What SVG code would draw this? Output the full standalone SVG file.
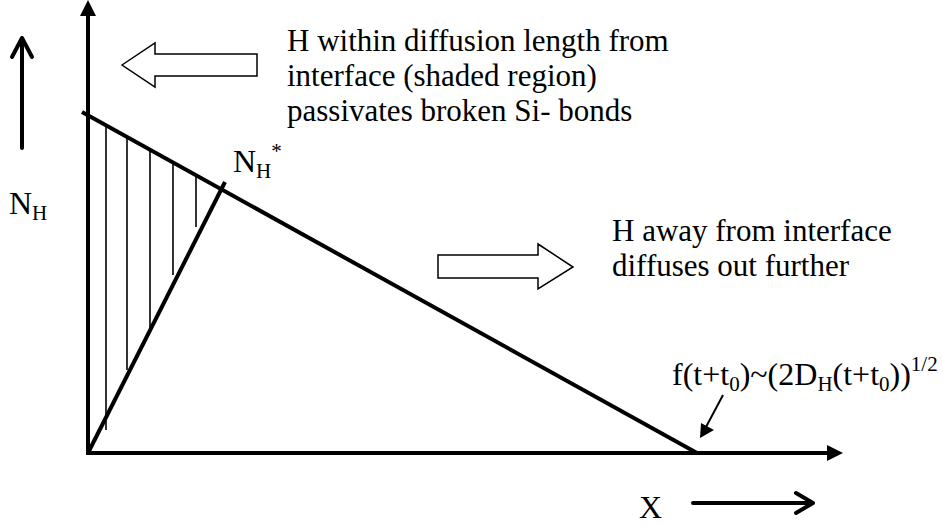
<svg xmlns="http://www.w3.org/2000/svg" width="943" height="526" viewBox="0 0 943 526">
<style>
text{font-family:"Liberation Serif","Times New Roman",serif;font-size:32px;fill:#000}
.ml{font-size:31px}
.thick{stroke:#000;stroke-width:4;fill:none}
.hatch{stroke:#000;stroke-width:1.6;fill:none}
.block{fill:#fff;stroke:#000;stroke-width:1.5}
.sub{font-size:21px}
</style>
<rect width="943" height="526" fill="#fff"/>
<g id="connectors">
<line class="thick" x1="88" y1="455" x2="88" y2="14"/>
<polygon points="88,0 80,16 96,16" fill="#000"/>
<line class="thick" x1="86" y1="453" x2="829" y2="453"/>
<polygon points="843,453 827,445 827,461" fill="#000"/>
<line class="thick" x1="82" y1="112" x2="697" y2="453"/>
<line class="thick" x1="88" y1="453" x2="225" y2="182"/>
<g id="hatching">
<line class="hatch" x1="106" y1="125" x2="106" y2="430"/>
<line class="hatch" x1="127" y1="137" x2="127" y2="370"/>
<line class="hatch" x1="150" y1="150" x2="150" y2="330"/>
<line class="hatch" x1="173" y1="162" x2="173" y2="275"/>
<line class="hatch" x1="196" y1="176" x2="196" y2="227"/>
</g>
<path class="thick" d="M22,148 V38 M12,57 L22,38 L32,57" stroke-linecap="round" stroke-linejoin="round"/>
<path class="thick" d="M693,503 H813 M796,493 L813,503 L796,513" stroke-linecap="round" stroke-linejoin="round"/>
<line x1="723" y1="395" x2="706" y2="427" stroke="#000" stroke-width="2"/>
<polygon points="700,438 701,423 714,430" fill="#000"/>
<polygon id="arrow-left" class="block" points="122,65 155,43 155,54 257,54 257,76 155,76 155,87"/>
<polygon id="arrow-right" class="block" points="438,255 538,255 538,244 573,267 538,289 538,278 438,278"/>
</g>
<g id="label-top">
<text class="ml" x="287" y="51">H within diffusion length from</text>
<text class="ml" x="287" y="86">interface (shaded region)</text>
<text class="ml" x="287" y="121">passivates broken Si- bonds</text>
</g>
<g id="label-NH">
<text x="9" y="214">N<tspan class="sub" dy="6">H</tspan></text>
</g>
<g id="label-NHstar">
<text x="233" y="172">N<tspan class="sub" dy="6">H</tspan><tspan class="sub" dy="-20">*</tspan></text>
</g>
<g id="label-away">
<text class="ml" x="612" y="241">H away from interface</text>
<text class="ml" x="612" y="276">diffuses out further</text>
</g>
<g id="label-formula">
<text x="672" y="385">f(t+t<tspan class="sub" dy="6">0</tspan><tspan dy="-6">)~(2D</tspan><tspan class="sub" dy="6">H</tspan><tspan dy="-6">(t+t</tspan><tspan class="sub" dy="6">0</tspan><tspan dy="-6">))</tspan><tspan class="sub" dy="-14">1/2</tspan></text>
</g>
<g id="label-X">
<text x="639" y="518">X</text>
</g>
</svg>
